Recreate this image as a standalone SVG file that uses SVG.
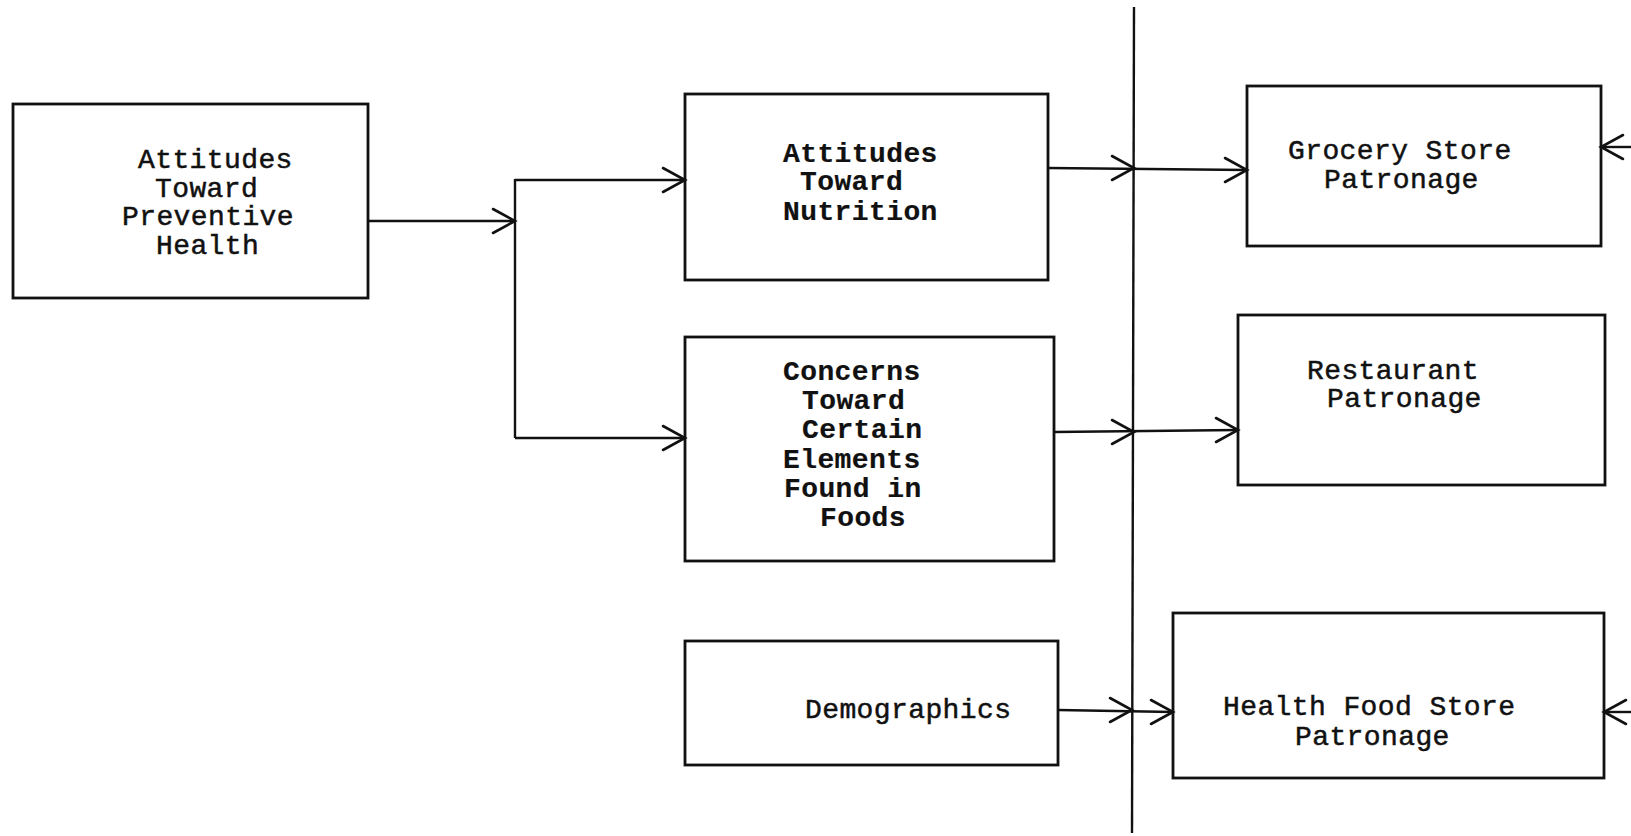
<svg xmlns="http://www.w3.org/2000/svg" width="1631" height="836" viewBox="0 0 1631 836">
<defs>
<style>
.box{fill:none;stroke:#111;stroke-width:2.8;stroke-linejoin:miter}
.t{font-family:"Liberation Mono","DejaVu Sans Mono",monospace;font-size:28px;letter-spacing:0.4px;fill:#111;stroke:#111;stroke-width:0.5}
.b{font-weight:bold;stroke-width:0.2}
.ln{fill:none;stroke:#111;stroke-width:2.4}
.ah{fill:none;stroke:#111;stroke-width:2.6;stroke-linecap:round;stroke-linejoin:miter}
</style>
</defs>
<rect width="1631" height="836" fill="#fff"/>
<g id="connectors">
<line class="ln" x1="1134" y1="7" x2="1132" y2="833"/>
<line class="ln" x1="368" y1="221" x2="515" y2="221"/>
<path class="ah" d="M493,209 L515,221 L493,233"/>
<line class="ln" x1="515" y1="179" x2="515" y2="438"/>
<line class="ln" x1="515" y1="180" x2="685" y2="180"/>
<path class="ah" d="M663,168 L685,180 L663,192"/>
<line class="ln" x1="515" y1="438" x2="685" y2="438"/>
<path class="ah" d="M663,426 L685,438 L663,450"/>
<line class="ln" x1="1048" y1="168" x2="1247" y2="170"/>
<path class="ah" d="M1112,156 L1134,168 L1112,180"/>
<path class="ah" d="M1225,158 L1247,170 L1225,182"/>
<line class="ln" x1="1054" y1="432" x2="1238" y2="430"/>
<path class="ah" d="M1112,420 L1134,432 L1112,444"/>
<path class="ah" d="M1216,418 L1238,430 L1216,442"/>
<line class="ln" x1="1058" y1="710" x2="1173" y2="712"/>
<path class="ah" d="M1110,698 L1132,710 L1110,722"/>
<path class="ah" d="M1151,700 L1173,712 L1151,724"/>
<line class="ln" x1="1631" y1="147" x2="1601" y2="147"/>
<path class="ah" d="M1623,135 L1601,147 L1623,159"/>
<line class="ln" x1="1631" y1="712" x2="1604" y2="712"/>
<path class="ah" d="M1626,700 L1604,712 L1626,724"/>
</g>
<g id="node-preventive-health">
<rect class="box" x="13" y="104" width="355" height="194"/>
<text class="t" x="138" y="168">Attitudes</text>
<text class="t" x="155" y="197">Toward</text>
<text class="t" x="122" y="225">Preventive</text>
<text class="t" x="156" y="254">Health</text>
</g>
<g id="node-nutrition">
<rect class="box" x="685" y="94" width="363" height="186"/>
<text class="t b" x="783" y="162">Attitudes</text>
<text class="t b" x="800" y="190">Toward</text>
<text class="t b" x="783" y="220">Nutrition</text>
</g>
<g id="node-concerns">
<rect class="box" x="685" y="337" width="369" height="224"/>
<text class="t b" x="783" y="380">Concerns</text>
<text class="t b" x="802" y="409">Toward</text>
<text class="t b" x="802" y="438">Certain</text>
<text class="t b" x="783" y="468">Elements</text>
<text class="t b" x="784" y="497">Found in</text>
<text class="t b" x="820" y="526">Foods</text>
</g>
<g id="node-demographics">
<rect class="box" x="685" y="641" width="373" height="124"/>
<text class="t" x="805" y="718">Demographics</text>
</g>
<g id="node-grocery">
<rect class="box" x="1247" y="86" width="354" height="160"/>
<text class="t" x="1288" y="159">Grocery Store</text>
<text class="t" x="1324" y="188">Patronage</text>
</g>
<g id="node-restaurant">
<rect class="box" x="1238" y="315" width="367" height="170"/>
<text class="t" x="1307" y="379">Restaurant</text>
<text class="t" x="1327" y="407">Patronage</text>
</g>
<g id="node-health-food">
<rect class="box" x="1173" y="613" width="431" height="165"/>
<text class="t" x="1223" y="715">Health Food Store</text>
<text class="t" x="1295" y="745">Patronage</text>
</g>
</svg>
